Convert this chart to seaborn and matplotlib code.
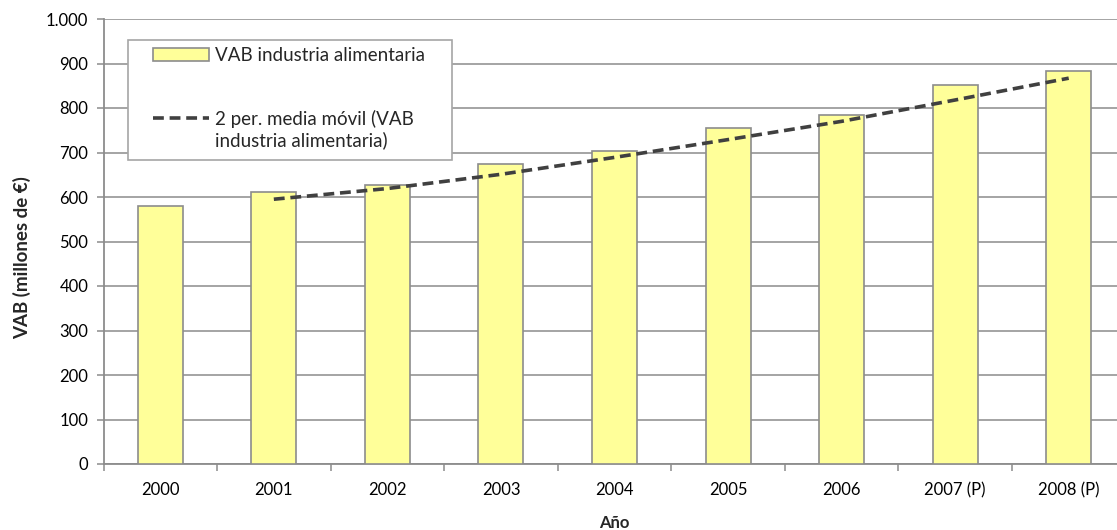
import numpy as np
import pandas as pd
import matplotlib
matplotlib.use("Agg")
import matplotlib.pyplot as plt
import seaborn as sns
from matplotlib.ticker import FuncFormatter, MultipleLocator, FixedLocator
from matplotlib.patches import Patch, Rectangle
from matplotlib.lines import Line2D
from matplotlib.legend_handler import HandlerLine2D

years = ["2000", "2001", "2002", "2003", "2004", "2005", "2006", "2007 (P)", "2008 (P)"]
vab = [580, 611, 628, 675, 703, 756, 785, 852, 883]
ma_years = ["2001", "2002", "2003", "2004", "2005", "2006", "2007 (P)", "2008 (P)"]
ma_values = [595, 619, 651, 689, 729, 770, 818, 867]

sns.set_theme(style="white")
plt.rcParams["font.family"] = ["Lato", "DejaVu Sans"]

W, H = 1117, 530
fig = plt.figure(figsize=(W / 100, H / 100), dpi=100)
ax_left, ax_right, ax_top, ax_bottom = 103.5, 1125.5, 19, 464
ax = fig.add_axes([ax_left / W, 1 - ax_bottom / H, (ax_right - ax_left) / W, (ax_bottom - ax_top) / H])

df = pd.DataFrame({"year": years, "vab": vab})
sns.barplot(data=df, x="year", y="vab", order=years, color="#FFFF99",
            edgecolor="#8C8C8C", linewidth=1.2, width=0.396, saturation=1, ax=ax, zorder=3)

xpos = [years.index(y) for y in ma_years]
ax.plot(xpos, ma_values, linestyle=(0, (3, 1.6)), color="#404040", linewidth=2.6, zorder=4)

ax.set_xlim(-0.5, len(years) - 0.5)
ax.set_ylim(0, 1000)
ax.yaxis.set_major_locator(MultipleLocator(100))
ax.yaxis.set_major_formatter(FuncFormatter(lambda v, p: f"{int(v):,}".replace(",", ".")))
ax.grid(axis="y", color="#8C8C8C", linewidth=1.1, zorder=0)
ax.set_axisbelow(True)

for s in ["top", "right"]:
    ax.spines[s].set_visible(False)
for s in ["left", "bottom"]:
    ax.spines[s].set_color("#8C8C8C")
    ax.spines[s].set_linewidth(1.3)

ax.tick_params(axis="y", which="major", direction="out", length=5, color="#8C8C8C",
               width=1.1, labelsize=12, labelcolor="#000000", left=True, pad=6)
ax.tick_params(axis="x", which="major", length=0, labelsize=12, labelcolor="#000000", pad=13)
ax.xaxis.set_minor_locator(FixedLocator(np.arange(-0.5, len(years) + 0.5, 1.0)))
ax.tick_params(axis="x", which="minor", direction="out", length=5, color="#8C8C8C",
               width=1.1, bottom=True)


def px_to_axes(x, y):
    return ((x - ax_left) / (ax_right - ax_left), (ax_bottom - y) / (ax_bottom - ax_top))


ax.set_xlabel("Año", fontsize=12, fontweight="bold")
ax.set_ylabel("VAB (millones de €)", fontsize=13.5, fontweight="bold")
ax.xaxis.set_label_coords(*px_to_axes(614, 523))
ax.xaxis.label.set_va("center")
ax.yaxis.set_label_coords(*px_to_axes(22, 258))
ax.yaxis.label.set_va("center")

# legend frame
fx0, fy1 = px_to_axes(128, 40)
fx1, fy0 = px_to_axes(452, 160)
frame = Rectangle((fx0, fy0), fx1 - fx0, fy1 - fy0, transform=ax.transAxes,
                  facecolor="white", edgecolor="#A6A6A6", linewidth=1.2, zorder=5)
ax.add_patch(frame)


class UpHandler(HandlerLine2D):
    def __init__(self, shift, **kw):
        super().__init__(**kw)
        self.shift = shift

    def create_artists(self, legend, orig_handle, xdescent, ydescent, width, height,
                       fontsize, trans):
        arts = super().create_artists(legend, orig_handle, xdescent, ydescent, width,
                                      height, fontsize, trans)
        for a in arts:
            a.set_ydata(np.asarray(a.get_ydata()) + self.shift)
        return arts


fs = 13.5
line_handle = Line2D([0], [0], linestyle=(0, (3, 1.6)), color="#404040", linewidth=2.6)
handles = [Patch(facecolor="#FFFF99", edgecolor="#8C8C8C", linewidth=1.2), line_handle]
labels = ["VAB industria alimentaria", "2 per. media móvil (VAB\nindustria alimentaria)"]
lx, ly = px_to_axes(153, 47)
leg = ax.legend(handles, labels, loc="upper left", bbox_to_anchor=(lx, ly),
                frameon=False, fontsize=fs, handlelength=3.0, handleheight=0.75,
                handletextpad=0.3, labelspacing=2.45, borderpad=0, borderaxespad=0,
                handler_map={line_handle: UpHandler(shift=fs * 0.6)})
leg.set_zorder(6)

fig.savefig("out.png", dpi=100)
